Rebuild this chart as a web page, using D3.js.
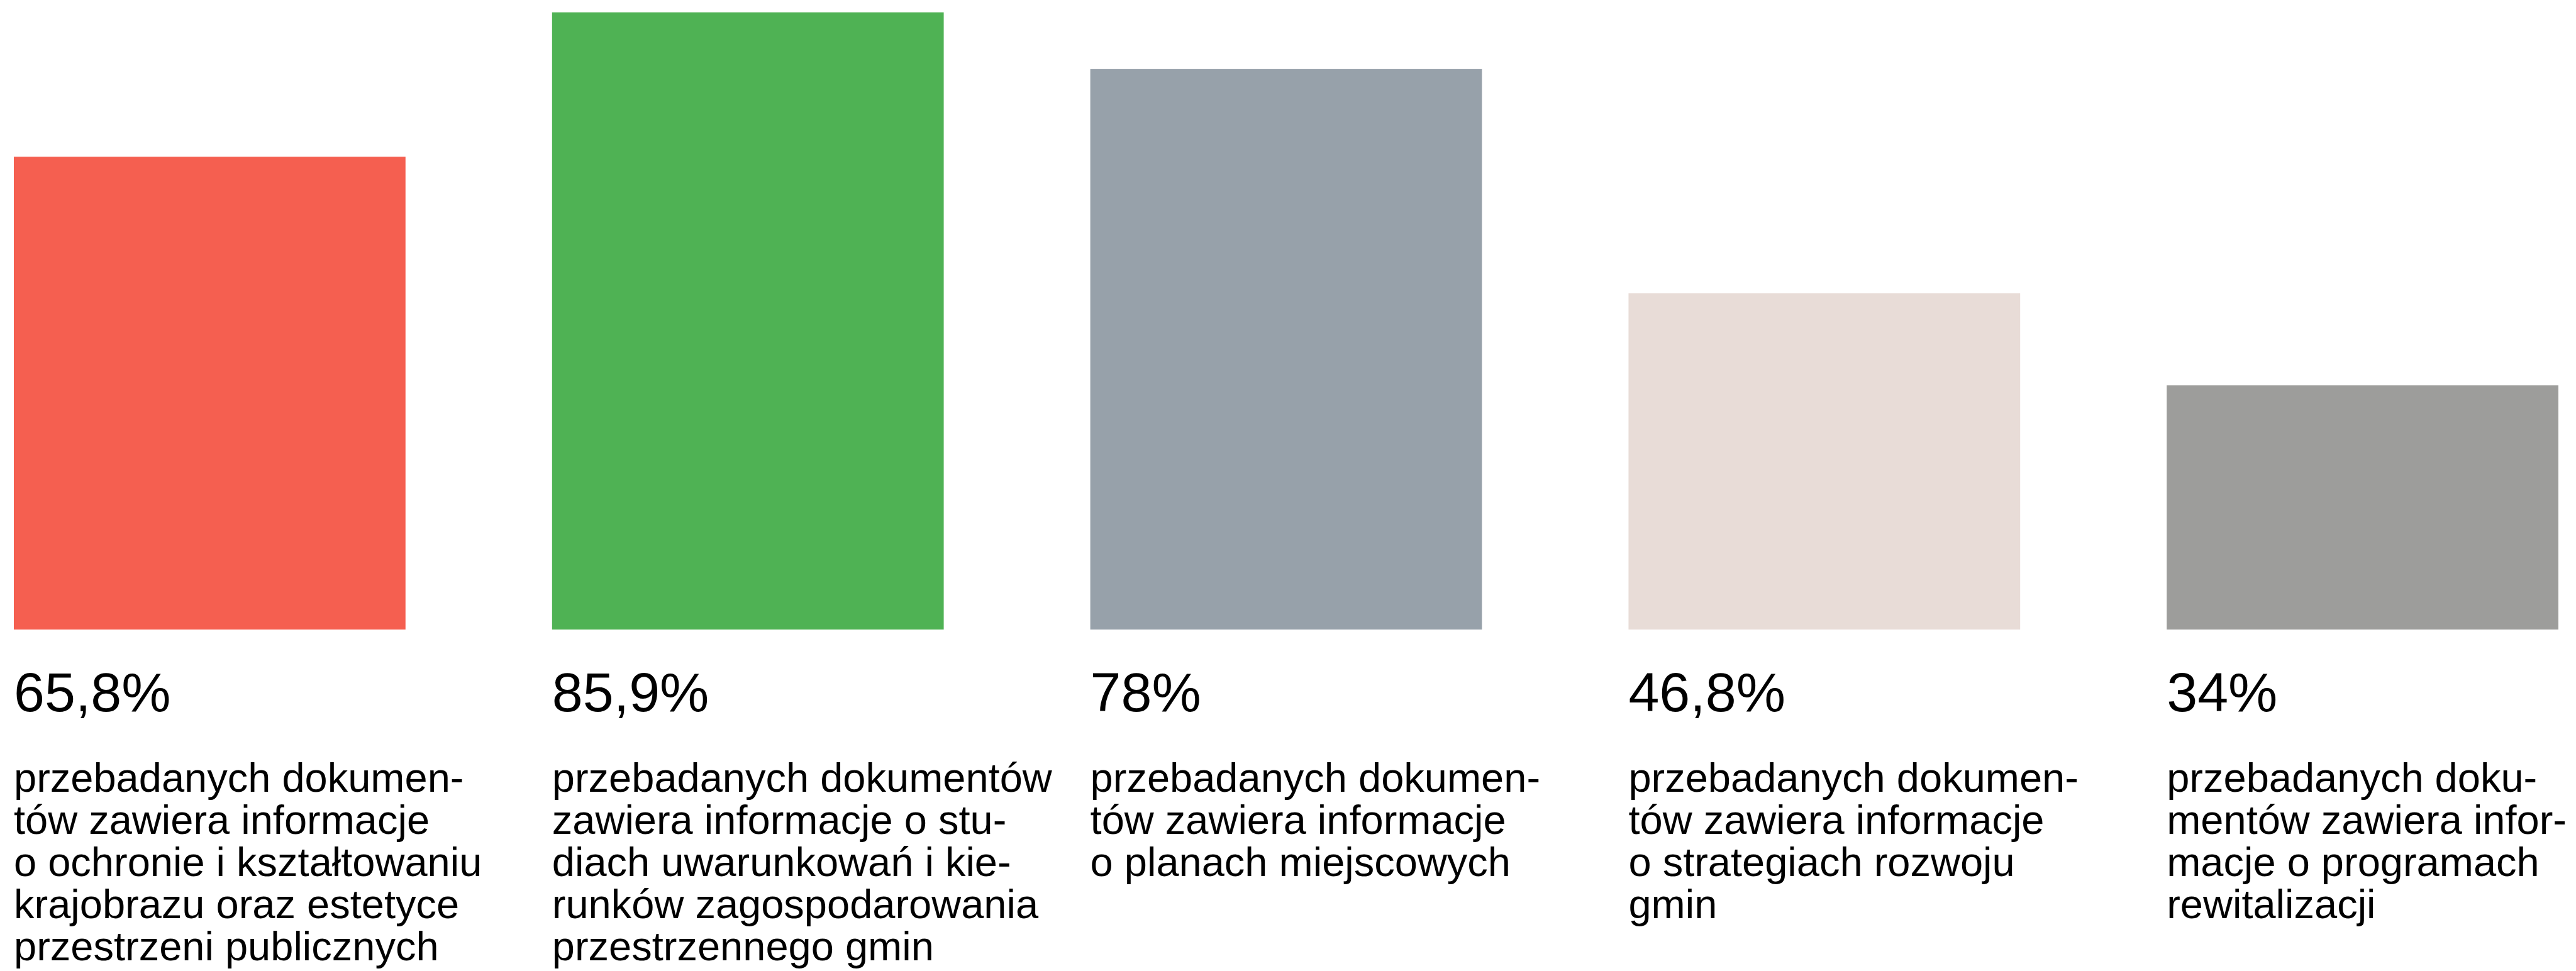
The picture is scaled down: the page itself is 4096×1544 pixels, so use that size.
<!DOCTYPE html>
<html>
<head>
<meta charset="utf-8">
<script src="https://cdn.jsdelivr.net/npm/d3@7"></script>
<style>
  html, body { margin: 0; padding: 0; background: #ffffff; }
  svg { display: block; }
</style>
</head>
<body>
<script>
const categories = ["ochrona krajobrazu", "studia uwarunkowań", "plany miejscowe", "strategie rozwoju", "programy rewitalizacji"];
const values = [65.8, 85.9, 78, 46.8, 34];
const valueLabels = ["65,8%", "85,9%", "78%", "46,8%", "34%"];
const colors = ["#F55F50", "#4FB254", "#97A1AA", "#E8DCD7", "#9D9D9B"];
const descriptions = [
  ["przebadanych dokumen-", "tów zawiera informacje", "o ochronie i kształtowaniu", "krajobrazu oraz estetyce", "przestrzeni publicznych"],
  ["przebadanych dokumentów", "zawiera informacje o stu-", "diach uwarunkowań i kie-", "runków zagospodarowania", "przestrzennego gmin"],
  ["przebadanych dokumen-", "tów zawiera informacje", "o planach miejscowych"],
  ["przebadanych dokumen-", "tów zawiera informacje", "o strategiach rozwoju", "gmin"],
  ["przebadanych doku-", "mentów zawiera infor-", "macje o programach", "rewitalizacji"]
];

const W = 4096, H = 1544;
const svg = d3.select("body").append("svg").attr("width", W).attr("height", H);

const x = d3.scaleBand().domain(categories).range([22, 4068]).paddingInner(0.2723).paddingOuter(0);
const y = d3.scaleLinear().domain([0, 100]).range([1001, -141.5]);

const font = "'Liberation Sans', Arial, 'Helvetica Neue', Helvetica, sans-serif";

svg.append("g").selectAll("rect").data(categories).join("rect")
  .attr("x", d => x(d))
  .attr("y", (d, i) => y(values[i]))
  .attr("width", x.bandwidth())
  .attr("height", (d, i) => y(0) - y(values[i]))
  .attr("fill", (d, i) => colors[i]);

svg.append("g").selectAll("text").data(categories).join("text")
  .attr("x", d => x(d))
  .attr("y", 1131)
  .attr("font-family", font)
  .attr("font-size", 88)
  .attr("fill", "#000")
  .text((d, i) => valueLabels[i]);

const desc = svg.append("g").selectAll("text").data(categories).join("text")
  .attr("x", d => x(d))
  .attr("y", 1259)
  .attr("font-family", font)
  .attr("font-size", 65)
  .attr("fill", "#000");
desc.each(function(d, i) {
  d3.select(this).selectAll("tspan").data(descriptions[i]).join("tspan")
    .attr("x", x(d))
    .attr("y", (l, j) => 1259 + j * 67.1)
    .text(l => l);
});
</script>
</body>
</html>
